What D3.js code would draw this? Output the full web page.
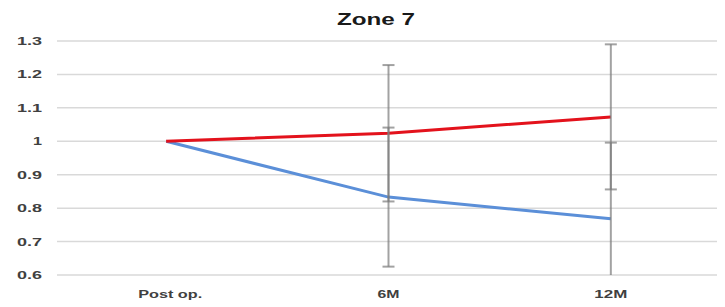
<!DOCTYPE html>
<html><head><meta charset="utf-8">
<script src="https://cdn.jsdelivr.net/npm/d3@7"></script>
<style>body{margin:0;background:#fff}svg{display:block}</style>
</head><body>
<script>
const categories = ["Post op.", "6M", "12M"];
const redValues = [1, 1.024, 1.073];
const redErr = [0, 0.204, 0.217];
const blueValues = [1, 0.833, 0.768];
const blueErr = [0, 0.208, 0.228];
const yTicks = [0.6, 0.7, 0.8, 0.9, 1, 1.1, 1.2, 1.3];
const yTickLabels = ["0.6", "0.7", "0.8", "0.9", "1", "1.1", "1.2", "1.3"];
const title = "Zone 7";

const W = 725, H = 307;
const svg = d3.select("body").append("svg").attr("width", W).attr("height", H);
const x = d3.scaleBand().domain(categories).range([55, 722]);
const y = d3.scaleLinear().domain([0.6, 1.3]).range([275, 41]);
const cx = c => x(c) + x.bandwidth() / 2;

// gridlines
svg.append("g").selectAll("line").data(yTicks).join("line")
  .attr("x1", 57).attr("x2", 717)
  .attr("y1", d => y(d)).attr("y2", d => y(d))
  .attr("stroke", "#d9d9d9").attr("stroke-width", 1.5);

// y labels
svg.append("g").selectAll("text").data(yTicks).join("text")
  .attr("x", 42).attr("y", d => y(d) + 4)
  .attr("text-anchor", "end")
  .attr("font-family", "Liberation Sans, Arial, sans-serif")
  .attr("font-size", 11).attr("font-weight", "bold").attr("fill", "#404040")
  .attr("textLength", (d, i) => yTickLabels[i].length === 1 ? 9 : 25)
  .attr("lengthAdjust", "spacingAndGlyphs")
  .text((d, i) => yTickLabels[i]);

// x labels
const xLabelW = {"Post op.": 64, "6M": 22, "12M": 33};
svg.append("g").selectAll("text").data(categories).join("text")
  .attr("x", d => cx(d) + (d === "Post op." ? 4 : 0)).attr("y", 298)
  .attr("text-anchor", "middle")
  .attr("font-family", "Liberation Sans, Arial, sans-serif")
  .attr("font-size", 11).attr("font-weight", "bold").attr("fill", "#404040")
  .attr("textLength", d => xLabelW[d]).attr("lengthAdjust", "spacingAndGlyphs")
  .text(d => d);

// title
svg.append("text").attr("x", 376).attr("y", 25).attr("text-anchor", "middle")
  .attr("font-family", "Liberation Sans, Arial, sans-serif")
  .attr("font-size", 16).attr("font-weight", "bold").attr("fill", "#1a1a1a")
  .attr("textLength", 78).attr("lengthAdjust", "spacingAndGlyphs")
  .text(title);

const line = d3.line().x((d, i) => cx(categories[i])).y(d => y(d));
svg.append("path").datum(blueValues).attr("d", line)
  .attr("fill", "none").attr("stroke", "#5b8fd8").attr("stroke-width", 3);
svg.append("path").datum(redValues).attr("d", line)
  .attr("fill", "none").attr("stroke", "#e3121c").attr("stroke-width", 3);

// error bars
function errBars(vals, errs) {
  const data = categories.map((c, i) => ({c, v: vals[i], e: errs[i]})).filter(d => d.e > 0);
  const g = svg.append("g").attr("stroke", "#7a7a7a").attr("stroke-opacity", 0.7).attr("stroke-width", 2);
  data.forEach(d => {
    const lo = Math.max(0.6, d.v - d.e), hi = Math.min(1.3, d.v + d.e);
    g.append("line").attr("x1", cx(d.c)).attr("x2", cx(d.c)).attr("y1", y(lo)).attr("y2", y(hi));
    g.append("line").attr("x1", cx(d.c) - 6).attr("x2", cx(d.c) + 6).attr("y1", y(hi)).attr("y2", y(hi));
    if (d.v - d.e >= 0.6)
      g.append("line").attr("x1", cx(d.c) - 6).attr("x2", cx(d.c) + 6).attr("y1", y(lo)).attr("y2", y(lo));
  });
}
errBars(blueValues, blueErr);
errBars(redValues, redErr);
</script>
</body></html>
